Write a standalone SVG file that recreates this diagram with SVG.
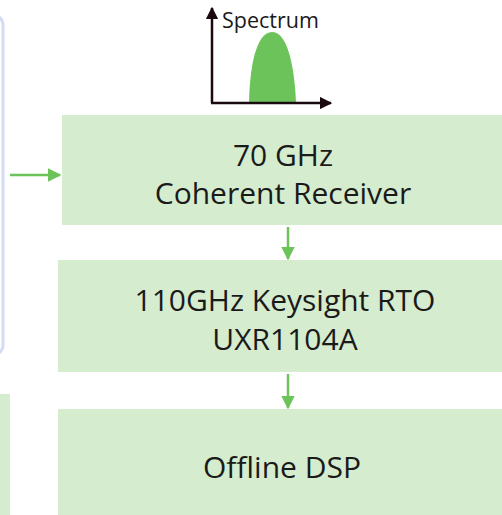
<svg xmlns="http://www.w3.org/2000/svg" width="502" height="515" viewBox="0 0 502 515">
<defs>
<style>
.box{fill:#d5ecce;}
.lbl{font-family:"Open Sans","Liberation Sans",sans-serif;font-size:30px;fill:#1a1a1a;text-anchor:middle;}
.conn{stroke:#6cc35a;stroke-width:2.5;fill:none;}
.ax{stroke:#1a0a10;stroke-width:2.5;fill:none;}
</style>
<marker id="ga" viewBox="0 0 10 10" refX="9" refY="5" markerWidth="5.5" markerHeight="5.5" orient="auto" markerUnits="strokeWidth"><path d="M0,0 L10,5 L0,10 Z" fill="#6cc35a"/></marker>
<marker id="ka" viewBox="0 0 10 10" refX="9" refY="5" markerWidth="5" markerHeight="5" orient="auto" markerUnits="strokeWidth"><path d="M0,0 L10,5 L0,10 Z" fill="#1a0a10"/></marker>
</defs>
<rect x="-20" y="15" width="23" height="340" rx="10" fill="none" stroke="#d3dcf5" stroke-width="3"/>
<g id="spectrum">
<path d="M249,102 C250,60 258,32 272,32 C286,32 294,60 296,102 Z" fill="#6cc35a"/>
<line class="ax" x1="212" y1="103" x2="212" y2="8" marker-end="url(#ka)"/>
<line class="ax" x1="211" y1="103" x2="331" y2="103" marker-end="url(#ka)"/>
<text x="222" y="28" font-family="Open Sans, Liberation Sans, sans-serif" font-size="21.5" fill="#1a1a1a">Spectrum</text>
</g>
<g id="receiver">
<rect class="box" x="62" y="115" width="440" height="110"/>
<text class="lbl" x="283" y="166">70 GHz</text>
<text class="lbl" x="283" y="204">Coherent  Receiver</text>
</g>
<g id="rto">
<rect class="box" x="58" y="260" width="444" height="112"/>
<text class="lbl" x="285" y="311">110GHz Keysight RTO</text>
<text class="lbl" x="285" y="350">UXR1104A</text>
</g>
<g id="dsp">
<rect class="box" x="58" y="409" width="444" height="106"/>
<text class="lbl" x="282" y="478">Offline DSP</text>
</g>
<g id="left-box">
<rect class="box" x="0" y="394" width="10" height="121"/>
</g>
<g id="connectors">
<line class="conn" x1="10" y1="175" x2="60" y2="175" marker-end="url(#ga)"/>
<line class="conn" x1="288" y1="227" x2="288" y2="259" marker-end="url(#ga)"/>
<line class="conn" x1="288" y1="374" x2="288" y2="408" marker-end="url(#ga)"/>
</g>
</svg>
